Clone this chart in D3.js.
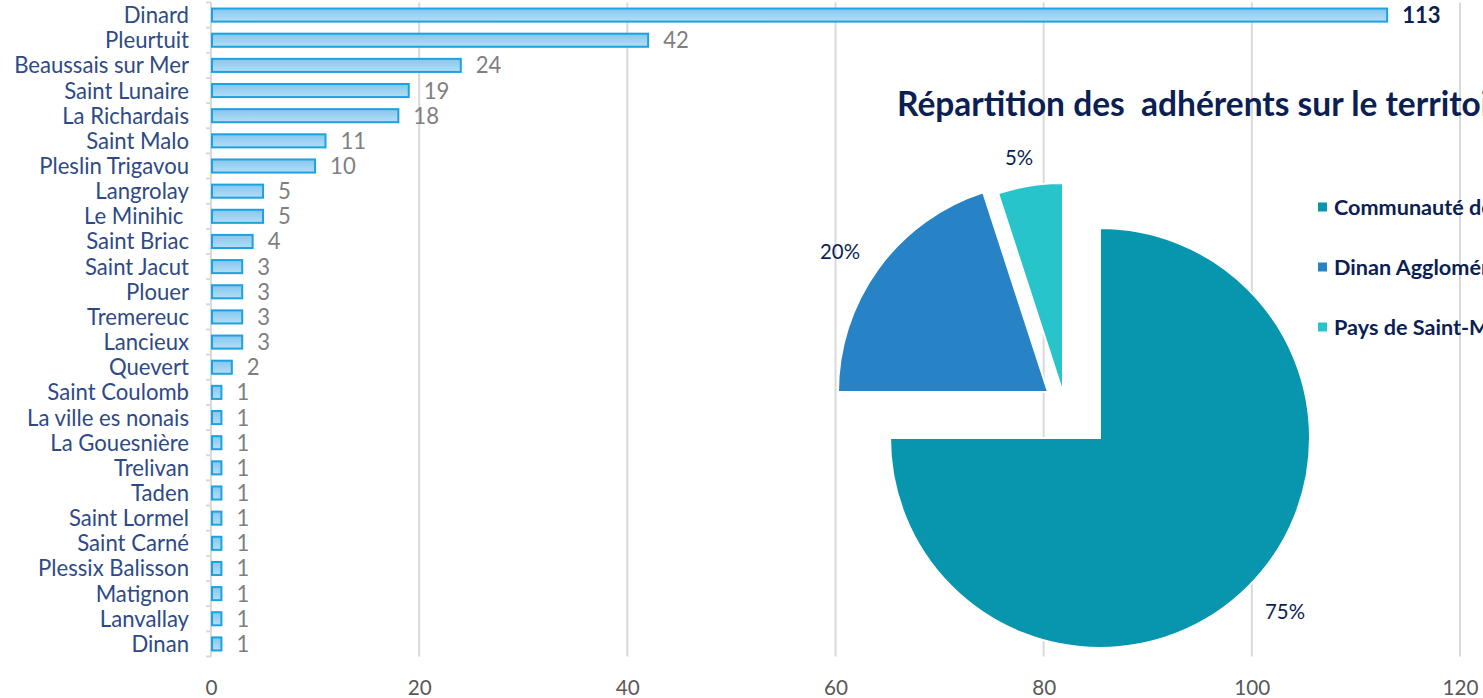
<!DOCTYPE html>
<html>
<head>
<meta charset="utf-8">
<script src="https://cdn.jsdelivr.net/npm/d3@7"></script>
<style>
  html, body { margin: 0; padding: 0; background: #fff; }
  svg { display: block; }
  text { font-family: Lato, "Open Sans", sans-serif; }
</style>
</head>
<body>
<svg id="chart" width="1483" height="698"></svg>
<script>
// ---- data ----
const communes = ["Dinard", "Pleurtuit", "Beaussais sur Mer", "Saint Lunaire", "La Richardais",
  "Saint Malo", "Pleslin Trigavou", "Langrolay", "Le Minihic ", "Saint Briac", "Saint Jacut",
  "Plouer", "Tremereuc", "Lancieux", "Quevert", "Saint Coulomb", "La ville es nonais",
  "La Gouesnière", "Trelivan", "Taden", "Saint Lormel", "Saint Carné", "Plessix Balisson",
  "Matignon", "Lanvallay", "Dinan"];
const adherents = [113, 42, 24, 19, 18, 11, 10, 5, 5, 4, 3, 3, 3, 3, 2, 1, 1, 1, 1, 1, 1, 1, 1, 1, 1, 1];
const xTicks = [0, 20, 40, 60, 80, 100, 120];

const pieTitle = "Répartition des  adhérents sur le territoire";
const territoires = ["Communauté de Communes Côte d'Emeraude", "Dinan Agglomération", "Pays de Saint-Malo"];
const parts = [75, 20, 5];

// ---- styles ----
const sliceColors = ["#0796ae", "#2783c6", "#28c4cc"];
const explode = [[0, 0], [-52, -46], [-37, -45]];
const navy = "#0c1f52";
const FONT = "Lato, 'Open Sans', sans-serif";

const svg = d3.select("#chart");

// measure helper: font size so that sample text has target width
function fitSize(sample, target, weight) {
  const t = svg.append("text").attr("font-family", FONT).attr("font-size", 100)
    .attr("font-weight", weight || "normal").style("white-space", "pre").text(sample);
  const w = t.node().getComputedTextLength();
  t.remove();
  return 100 * target / w;
}
const labelSize = fitSize("Beaussais sur Mer", 175);
const titleSize = fitSize("Répartition des  adhérents sur le territo", 584, "bold");
const legendSize = fitSize("Dinan Agglomé", 147, "bold");
const pctSize = fitSize("20%", 40);
const tickSize = fitSize("100", 36);

// gradient for bars
const defs = svg.append("defs");
const grad = defs.append("linearGradient").attr("id", "barGrad")
  .attr("x1", 0).attr("y1", 0).attr("x2", 0).attr("y2", 1);
grad.append("stop").attr("offset", "0%").attr("stop-color", "#86c6ee");
grad.append("stop").attr("offset", "100%").attr("stop-color", "#b4def7");

// ---- bar chart ----
const x = d3.scaleLinear().domain([0, 120]).range([211, 1460]);
const y = d3.scaleBand().domain(communes).range([2.5, 656.5]).paddingInner(0.48).paddingOuter(0.24);

// gridlines
svg.append("g").selectAll("line").data(xTicks.slice(1)).join("line")
  .attr("x1", d => x(d)).attr("x2", d => x(d))
  .attr("y1", 2.5).attr("y2", 656.5)
  .attr("stroke", "#d9d9d9").attr("stroke-width", 2);

// left axis line + ticks at band boundaries
const axisG = svg.append("g");
axisG.append("line").attr("x1", x(0)).attr("x2", x(0)).attr("y1", 2.5).attr("y2", 656.5)
  .attr("stroke", "#d9d9d9").attr("stroke-width", 2);
const bounds = d3.range(communes.length + 1).map(i => 2.5 + i * (654 / communes.length));
axisG.selectAll("line.tk").data(bounds).join("line").attr("class", "tk")
  .attr("x1", x(0) - 5).attr("x2", x(0))
  .attr("y1", d => d).attr("y2", d => d)
  .attr("stroke", "#d9d9d9").attr("stroke-width", 2);

// bottom tick labels
const xAxis = d3.axisBottom(x).tickValues(xTicks).tickSize(0).tickPadding(0);
const xa = svg.append("g").attr("transform", "translate(0,680)").call(xAxis);
xa.select(".domain").remove();
xa.selectAll("text").attr("fill", "#595959").attr("font-size", tickSize)
  .attr("font-family", FONT).attr("dy", "0.71em");

// category labels
const yAxis = d3.axisLeft(y).tickSize(0).tickPadding(0);
const ya = svg.append("g").attr("transform", "translate(189,0)").call(yAxis);
ya.select(".domain").remove();
ya.selectAll("text").attr("fill", "#2e4a86").attr("font-size", labelSize)
  .attr("font-family", FONT)
  .style("white-space", "pre").attr("dy", "0.36em");

// bars
const rows = communes.map((c, i) => ({ c, v: adherents[i], i }));
svg.append("g").selectAll("rect").data(rows).join("rect")
  .attr("x", x(0) + 1)
  .attr("y", d => y(d.c))
  .attr("width", d => x(d.v) - x(0) - 1)
  .attr("height", y.bandwidth())
  .attr("fill", "url(#barGrad)")
  .attr("stroke", "#1ca2e0").attr("stroke-width", 2);

// value labels
svg.append("g").selectAll("text").data(rows).join("text")
  .attr("x", d => x(d.v) + 15)
  .attr("y", d => y(d.c) + y.bandwidth() / 2)
  .attr("dy", "0.36em")
  .attr("font-size", labelSize)
  .attr("font-weight", d => d.i === 0 ? "bold" : "normal")
  .attr("fill", d => d.i === 0 ? navy : "#7f7f7f")
  .text(d => d.v);

// ---- pie chart ----
const cx = 1100, cy = 438, r = 210;
const pie = d3.pie().sort(null).value(d => d)(parts);
const arc = d3.arc().innerRadius(0).outerRadius(r);
const pg = svg.append("g").attr("transform", `translate(${cx},${cy})`);
pg.selectAll("path").data(pie).join("path")
  .attr("transform", (d, i) => `translate(${explode[i][0]},${explode[i][1]})`)
  .attr("d", arc)
  .attr("fill", (d, i) => sliceColors[i])
  .attr("stroke", "#fff").attr("stroke-width", 2);

// pie labels
const labelPos = [[185, 174], [-260, -186], [-81, -280]];
pg.selectAll("text.pl").data(pie).join("text").attr("class", "pl")
  .attr("x", (d, i) => labelPos[i][0]).attr("y", (d, i) => labelPos[i][1])
  .attr("text-anchor", "middle").attr("dy", "0.35em")
  .attr("font-size", pctSize).attr("fill", navy)
  .text(d => d.data + "%");

// title
svg.append("text").attr("x", 897).attr("y", 116)
  .attr("font-size", titleSize).attr("font-weight", "bold").attr("fill", navy)
  .style("white-space", "pre")
  .text(pieTitle);

// legend
const lg = svg.append("g").selectAll("g").data(territoires).join("g")
  .attr("transform", (d, i) => `translate(1318,${207 + i * 60})`);
lg.append("rect").attr("x", 0).attr("y", -4.5).attr("width", 9).attr("height", 9)
  .attr("fill", (d, i) => sliceColors[i]);
lg.append("text").attr("x", 16).attr("dy", "0.35em")
  .attr("font-size", legendSize).attr("font-weight", "bold").attr("fill", navy)
  .text(d => d);
</script>
</body>
</html>
